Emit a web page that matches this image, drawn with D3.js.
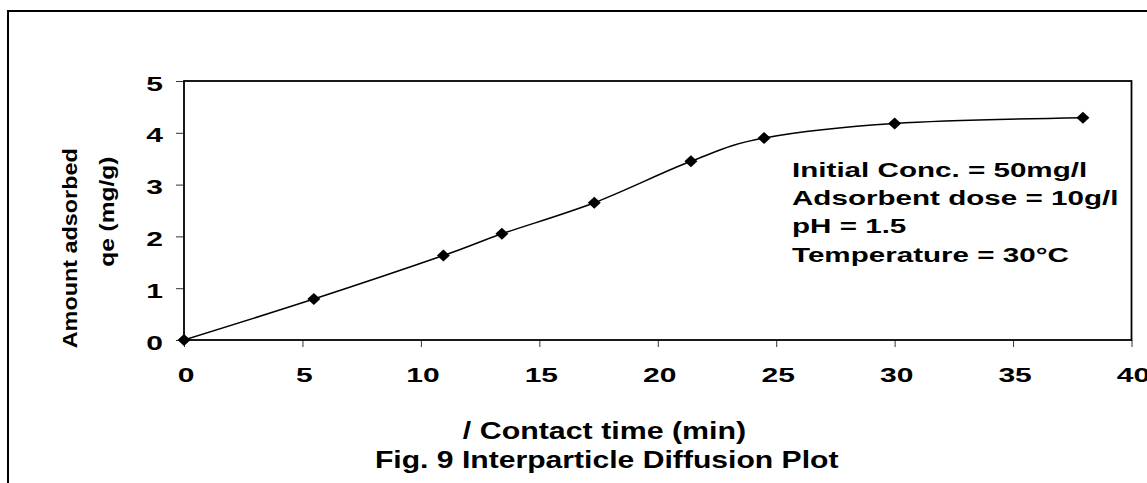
<!DOCTYPE html>
<html>
<head>
<meta charset="utf-8">
<script src="https://cdn.jsdelivr.net/npm/d3@7"></script>
<style>
  body { margin: 0; background: #fff; }
  svg text { font-family: "Liberation Sans", Arial, sans-serif; font-weight: bold; fill: #000; }
</style>
</head>
<body>
<div id="chart"></div>
<script>
// data
var contactTime = [0, 5.48, 10.95, 13.42, 17.32, 21.4, 24.49, 30, 37.95];
var qe = [0, 0.79, 1.63, 2.05, 2.65, 3.45, 3.9, 4.18, 4.29];
var xTicks = [0, 5, 10, 15, 20, 25, 30, 35, 40];
var yTicks = [0, 1, 2, 3, 4, 5];
var notes = ["Initial Conc. = 50mg/l", "Adsorbent dose = 10g/l", "pH = 1.5", "Temperature = 30\u00B0C"];
var yLabelLines = ["Amount adsorbed", "qe (mg/g)"];
var xLabel = "/ Contact time (min)";
var title = "Fig. 9 Interparticle Diffusion Plot";

var width = 1147, height = 483;
var plot = {left: 184, right: 1131.5, top: 81, bottom: 340};

var svg = d3.select("#chart").append("svg")
  .attr("width", width)
  .attr("height", height);

// outer frame (only top and left edges fall inside the view)
svg.append("rect")
  .attr("x", 8).attr("y", 11)
  .attr("width", 1200).attr("height", 600)
  .attr("fill", "none")
  .attr("stroke", "#000")
  .attr("stroke-width", 2);

var x = d3.scaleLinear().domain([0, 40]).range([plot.left, plot.right]);
var y = d3.scaleLinear().domain([0, 5]).range([plot.bottom, plot.top]);

// axes, ticks only; the labels get stretched like the original
var xAxis = svg.append("g")
  .attr("transform", `translate(0, ${plot.bottom})`)
  .call(d3.axisBottom(x).tickValues(xTicks).tickFormat(d3.format("d")).tickSize(7).tickSizeOuter(0));
xAxis.select(".domain").remove();
xAxis.selectAll("line").attr("stroke", "#333");
xAxis.selectAll("text")
  .attr("y", null).attr("dy", null)
  .attr("font-size", 20)
  .attr("transform", "translate(1.5, 42) scale(1.5, 1)");

var yAxis = svg.append("g")
  .attr("transform", `translate(${plot.left}, 0)`)
  .call(d3.axisLeft(y).tickValues(yTicks).tickFormat(d3.format("d")).tickSize(8).tickSizeOuter(0));
yAxis.select(".domain").remove();
yAxis.selectAll("line").attr("stroke", "#333");
yAxis.selectAll("text")
  .attr("x", null).attr("dy", null)
  .attr("font-size", 20)
  .attr("transform", "translate(-21, 9) scale(1.5, 1)");

// plot area border
svg.append("rect")
  .attr("x", plot.left).attr("y", plot.top)
  .attr("width", plot.right - plot.left)
  .attr("height", plot.bottom - plot.top)
  .attr("fill", "none")
  .attr("stroke", "#000")
  .attr("stroke-width", 1.8);

// smoothed line
var line = d3.line()
  .x(function(d, i) { return x(contactTime[i]); })
  .y(function(d) { return y(d); })
  .curve(d3.curveCardinal.tension(0));

svg.append("path")
  .datum(qe)
  .attr("d", line)
  .attr("fill", "none")
  .attr("stroke", "#000")
  .attr("stroke-width", 1.5);

// diamond markers
var dw = 6.5, dh = 6;
svg.append("g").selectAll("path")
  .data(qe).enter()
  .append("path")
  .attr("transform", function(d, i) { return `translate(${x(contactTime[i])}, ${y(d)})`; })
  .attr("d", `M0,${-dh}L${dw},0L0,${dh}L${-dw},0Z`)
  .attr("fill", "#000");

// condition notes
var noteBase = [176.7, 204.5, 232.5, 261.5];
svg.append("g").selectAll("text")
  .data(notes).enter()
  .append("text")
  .attr("font-size", 21)
  .attr("transform", function(d, i) { return `translate(792, ${noteBase[i]}) scale(1.41, 1)`; })
  .text(function(d) { return d; });

// y axis title, two rotated lines
svg.append("text")
  .attr("transform", "translate(77, 248.3) rotate(-90)")
  .attr("text-anchor", "middle")
  .attr("font-size", 21)
  .attr("textLength", 200)
  .attr("lengthAdjust", "spacingAndGlyphs")
  .text(yLabelLines[0]);

svg.append("text")
  .attr("transform", "translate(114, 211.7) rotate(-90)")
  .attr("text-anchor", "middle")
  .attr("font-size", 21)
  .attr("textLength", 110)
  .attr("lengthAdjust", "spacingAndGlyphs")
  .text(yLabelLines[1]);

// x axis title and figure caption
svg.append("text")
  .attr("transform", "translate(604.5, 438.5) scale(1.32, 1)")
  .attr("text-anchor", "middle")
  .attr("font-size", 23)
  .text(xLabel);

svg.append("text")
  .attr("transform", "translate(606.7, 468) scale(1.31, 1)")
  .attr("text-anchor", "middle")
  .attr("font-size", 23)
  .text(title);
</script>
</body>
</html>
